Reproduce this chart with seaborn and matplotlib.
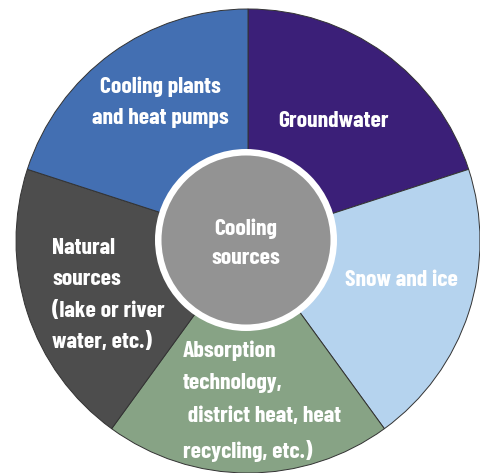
import matplotlib
matplotlib.use("Agg")
import matplotlib.pyplot as plt
from matplotlib.patches import Circle
import seaborn as sns

# Data
categories = ["Groundwater", "Snow and ice",
              "Absorption\ntechnology,\n district heat, heat\nrecycling, etc.)",
              "Natural\nsources\n(lake or river\nwater, etc.)",
              "Cooling plants\nand heat pumps"]
shares = [1, 1, 1, 1, 1]
slice_colors = ["#3b1f78", "#b5d3ee", "#87a385", "#4d4d4d", "#436fb2"]
center_label = "Cooling\nsources"

sns.set_theme(style="white")
plt.rcParams['font.family'] = ['Barlow Condensed', 'DejaVu Sans']

W, H = 481, 473
fig = plt.figure(figsize=(W / 100, H / 100), dpi=100)
ax = fig.add_axes([0, 0, 1, 1])

cx, cy, R = 248, H - 241, 232
ax.pie(shares, colors=slice_colors, startangle=90, counterclock=False,
       center=(cx, cy), radius=R, frame=True,
       wedgeprops=dict(edgecolor="#333333", linewidth=0.7))
ax.set_xlim(0, W)
ax.set_ylim(0, H)
ax.set_aspect("equal")
ax.axis("off")

ax.add_patch(Circle((cx - 2, H - 240), 91, facecolor="white", edgecolor="none", zorder=5))
ax.add_patch(Circle((cx - 2, H - 240), 84.5, facecolor="#939393", edgecolor="none", zorder=6))

fs = 17
common = dict(color="white", fontsize=fs, fontweight="bold", zorder=7, linespacing=1.55)

ax.text(334, H - 121, categories[0], ha="center", va="center", **common)
ax.text(401, H - 280, categories[1], ha="center", va="center", **common)
ax.text(183, H - 401, categories[2], ha="left", va="center",
        **{**common, "linespacing": 1.78})
ax.text(52, H - 295, categories[3], ha="left", va="center",
        **{**common, "linespacing": 1.7})
ax.text(160, H - 102, categories[4], ha="center", va="center",
        **{**common, "linespacing": 1.69})
ax.text(cx - 2, H - 243, center_label, ha="center", va="center", **common)

fig.savefig("out.png", dpi=100)
